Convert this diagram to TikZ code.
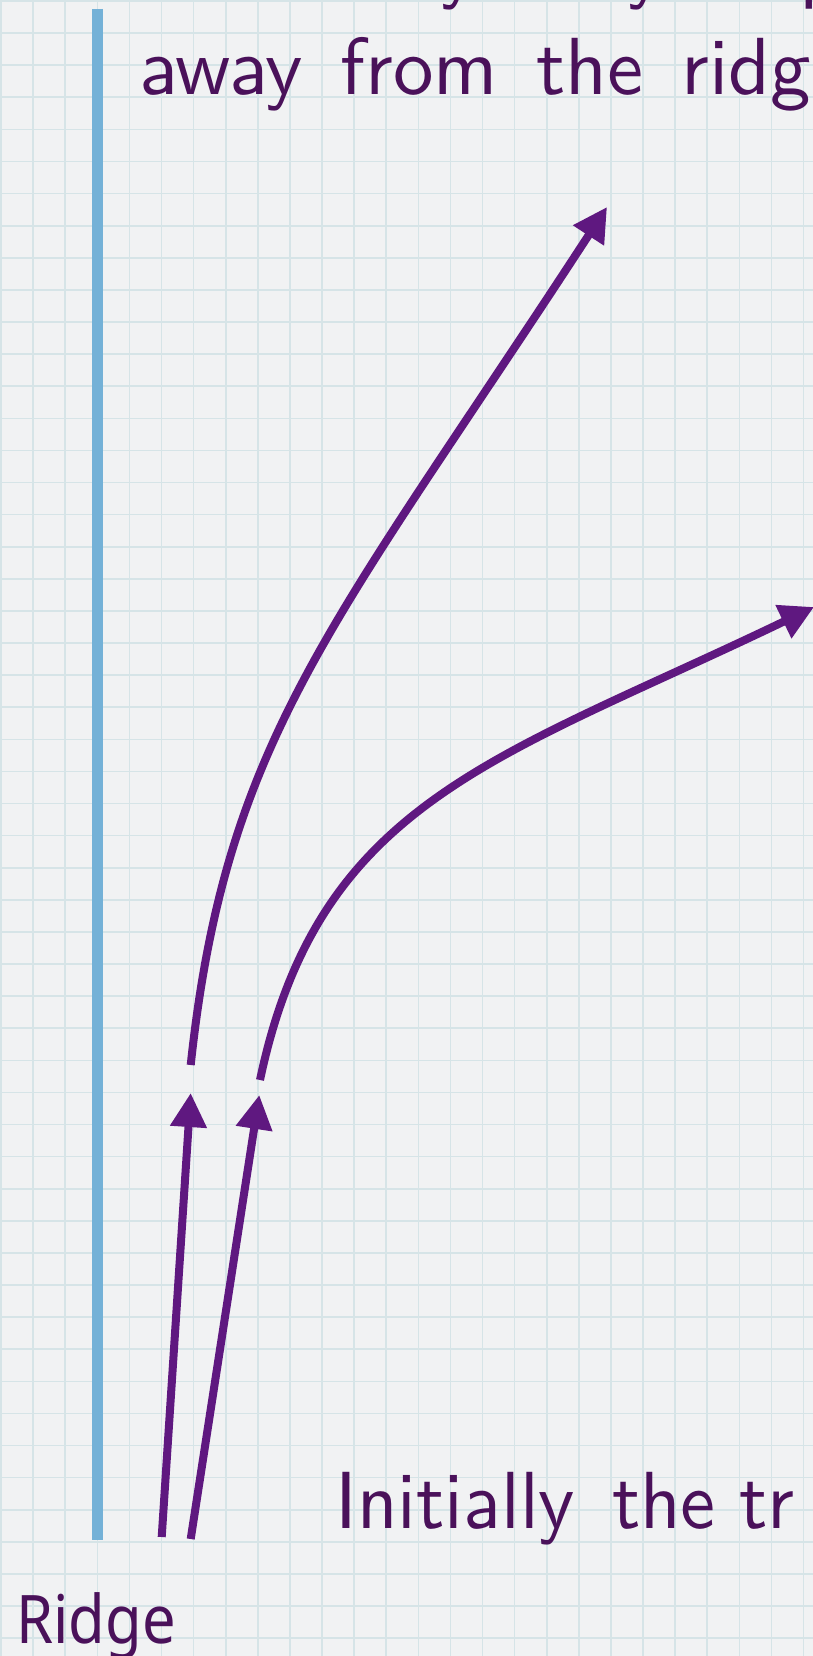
\documentclass[tikz,border=0pt]{standalone}
\usepackage{fontspec}
\newfontfamily\ridgefont{Noto Sans}
\newfontfamily\lmsten{lmsans10-regular.otf}
\usetikzlibrary{arrows.meta}
\definecolor{bg}{RGB}{241,242,243}
\definecolor{gridc}{RGB}{214,228,231}
\definecolor{ridgeblue}{RGB}{116,177,215}
\definecolor{traj}{RGB}{95,24,128}
\definecolor{txt}{RGB}{74,17,90}
\newcommand\wsp{\hspace*{38pt}}
\tikzset{
  gridline/.style={draw=gridc, line width=1.6pt},
  trajline/.style={draw=traj, line width=8pt, -{Triangle[length=34pt,width=35pt]}},
  ridgebar/.style={draw=ridgeblue, line width=10.4pt},
  bigtext/.style={text=txt, inner sep=0pt, anchor=base west,
    font={\lmsten\fontsize{81}{98}\selectfont}},
  smalltext/.style={text=txt, inner sep=0pt, anchor=base west,
    font={\ridgefont\fontsize{67}{80}\selectfont}},
}
\begin{document}
\begin{tikzpicture}[x=1pt,y=-1pt]
\useasboundingbox (0,0) rectangle (813,1656);
\clip (0,0) rectangle (813,1656);
\fill[bg] (0,0) rectangle (813,1656);
\foreach \i in {0,...,25} \draw[gridline] ({1+32.1*\i},0) -- ({1+32.1*\i},1656);
\foreach \j in {0,...,51} \draw[gridline] (0,{1+32.1*\j}) -- (813,{1+32.1*\j});

% ridge
\coordinate (rtop) at (97.5,9);
\coordinate (rbot) at (97.5,1540);
\draw[ridgebar] (rtop) -- (rbot);

% texts
\node[bigtext] (d1) at (440,-6) {y};
\node[bigtext] (d2) at (627,-6) {y};
\node[bigtext] (d3) at (799,-6) {p};
\node[bigtext] (toptext) at (139,95) {away\wsp from\wsp the\wsp ridg};
\node[bigtext] (bottext) at (335,1528) {\scalebox{0.97}[1]{Initially\hspace*{38pt}the\hspace*{24pt}tr}};
\node[smalltext] (ridge) at (16,1643) {\scalebox{0.89}[1]{Ridge}};

% trajectories
\coordinate (c0) at (161.7,1537);
\coordinate (c1) at (190.7,1093);
\coordinate (e0) at (190.7,1539);
\coordinate (e1) at (259.3,1095);
\coordinate (a0) at (190.7,1065);
\coordinate (a1) at (607,207);
\coordinate (b0) at (260,1080);
\coordinate (b1) at (814,607);
\draw[trajline] (c0) -- (c1);
\draw[trajline] (e0) -- (e1);
\draw[trajline] (a0) .. controls (226,735) and (334,626) .. (a1);
\draw[trajline] (b0) .. controls (319,800) and (498,759) .. (b1);
\end{tikzpicture}
\end{document}
